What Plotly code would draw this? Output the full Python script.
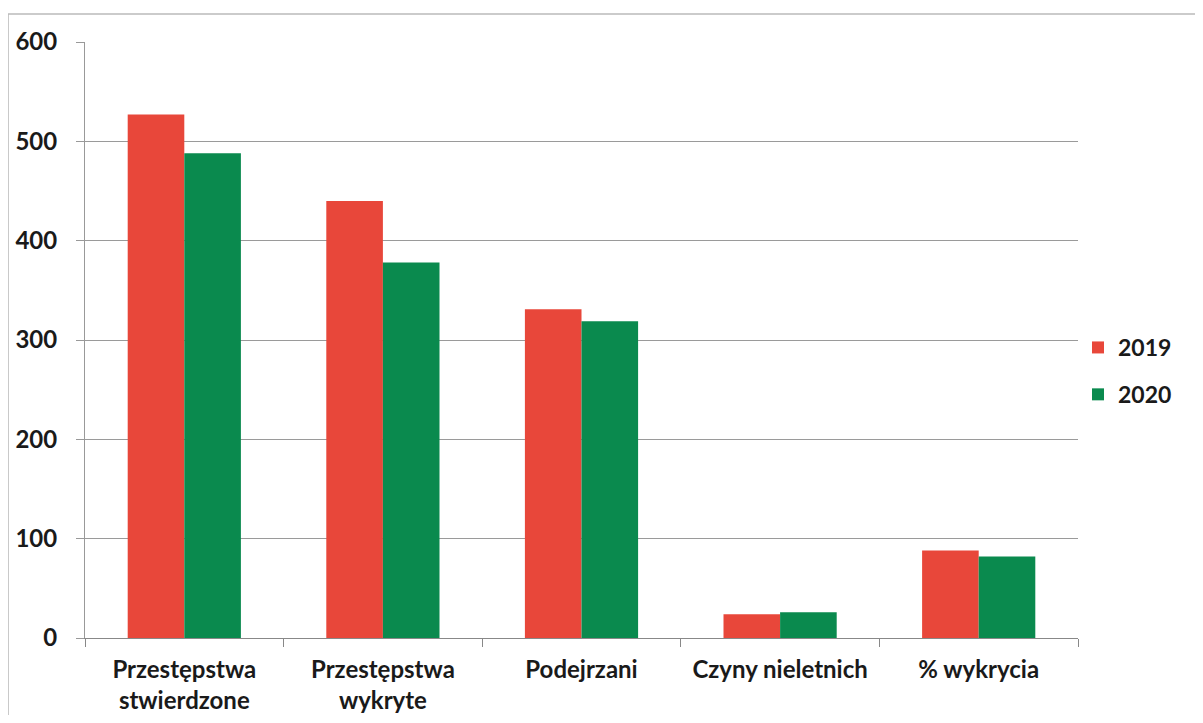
import plotly.graph_objects as go

categories = ["Przestępstwa<br>stwierdzone", "Przestępstwa<br>wykryte", "Podejrzani",
              "Czyny nieletnich", "% wykrycia"]
years = ["2019", "2020"]
values_2019 = [527, 440, 331, 24, 88]
values_2020 = [488, 378, 319, 26, 82]
y_ticks = [0, 100, 200, 300, 400, 500, 600]

colors = {"2019": "#E8473A", "2020": "#0A8A4E"}

fig = go.Figure()
for year, vals in zip(years, [values_2019, values_2020]):
    fig.add_trace(go.Bar(x=categories, y=vals, name=year, legendgroup=year,
                         marker=dict(color=colors[year], line=dict(width=0))))

fig.update_layout(
    width=1187, height=707,
    barmode="group", bargap=0.43, bargroupgap=0,
    plot_bgcolor="white", paper_bgcolor="white",
    font=dict(family="Lato, Open Sans, sans-serif", size=24, color="#1a1a1a", weight="bold"),
    margin=dict(l=77, r=117, t=34, b=77),
    legend=dict(x=1.0, y=0.448, xanchor="left", yanchor="middle",
                font=dict(size=23), itemwidth=30, tracegroupgap=14),
    showlegend=True,
)
fig.update_yaxes(range=[0, 600], tickvals=y_ticks, showgrid=True, gridcolor="#9a9a9a",
                 gridwidth=1, showline=True, linecolor="#999", ticks="outside",
                 ticklen=8, tickcolor="#999", ticklabelstandoff=14, zeroline=False,
                 automargin=False)
fig.update_xaxes(showline=True, linecolor="#888", ticks="outside", tickson="boundaries",
                 ticklen=8, tickcolor="#888", ticklabelstandoff=10, automargin=False)

# faint frame around the chart, like the scanned original
fig.add_shape(type="rect", xref="paper", yref="paper", x0=-0.0775, x1=1.2, y0=-0.2, y1=1.047,
              line=dict(color="#bbb", width=1.5))

fig.write_html("out.html")
